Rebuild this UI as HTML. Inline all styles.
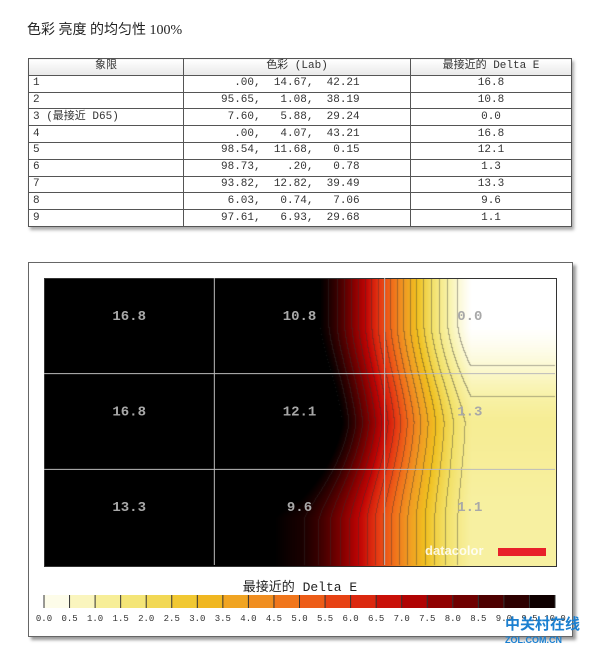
<!DOCTYPE html>
<html><head><meta charset="utf-8"><style>
body{margin:0;width:600px;height:658px;background:#fff;position:relative;overflow:hidden;font-family:"Liberation Mono","Noto Sans CJK SC",monospace;}
.t{position:absolute;}
table{border-collapse:collapse;position:absolute;left:28px;top:58px;width:544px;font-size:11px;color:#333;box-shadow:2px 3px 3px #aaa;}
td,th{border:1px solid #555;height:15.8px;padding:0 4px;font-weight:normal;line-height:15px;}
th{background:linear-gradient(#fff,#e8e8e8);}
td.c{text-align:center;}
td.l{white-space:pre;}
</style></head><body>
<div class="t" style="left:27px;top:19px;font-size:14px;font-family:'Liberation Serif','Noto Sans CJK SC',sans-serif;color:#222">色彩 亮度 的均匀性 100%</div>
<table>
<tr><th style="width:146px">象限</th><th style="width:218px">色彩 (Lab)</th><th>最接近的 Delta E</th></tr>
<tr><td>1</td><td class="l">       .00,  14.67,  42.21</td><td class="c">16.8</td></tr>
<tr><td>2</td><td class="l">     95.65,   1.08,  38.19</td><td class="c">10.8</td></tr>
<tr><td>3 (最接近 D65)</td><td class="l">      7.60,   5.88,  29.24</td><td class="c">0.0</td></tr>
<tr><td>4</td><td class="l">       .00,   4.07,  43.21</td><td class="c">16.8</td></tr>
<tr><td>5</td><td class="l">     98.54,  11.68,   0.15</td><td class="c">12.1</td></tr>
<tr><td>6</td><td class="l">     98.73,    .20,   0.78</td><td class="c">1.3</td></tr>
<tr><td>7</td><td class="l">     93.82,  12.82,  39.49</td><td class="c">13.3</td></tr>
<tr><td>8</td><td class="l">      6.03,   0.74,   7.06</td><td class="c">9.6</td></tr>
<tr><td>9</td><td class="l">     97.61,   6.93,  29.68</td><td class="c">1.1</td></tr>
</table>
<div style="position:absolute;left:28px;top:262px;width:543px;height:373px;border:1px solid #666;box-shadow:3px 3px 3px #999;background:#fff"></div>
<canvas id="hm" width="511" height="287" style="position:absolute;left:44px;top:278px;border:1px solid #333;box-sizing:border-box"></canvas>
<svg id="ov" width="600" height="658" style="position:absolute;left:0;top:0"></svg>
<div class="t" style="left:0;width:600px;text-align:center;top:576px;font-size:13px;color:#222">最接近的 Delta E</div>
<div class="t" style="left:505px;top:618px;font-family:'Liberation Sans','Noto Sans CJK SC',sans-serif;font-weight:bold;color:#1a7fd0;font-size:15px;line-height:14px">中关村在线<br><span style="font-size:9px">ZOL.COM.CN</span></div>
<script>
const grid=[[16.8,10.8,0.0],[16.8,12.1,1.3],[13.3,9.6,1.1]];
const cellLabels=["16.8","10.8","0.0","16.8","12.1","1.3","13.3","9.6","1.1"];
const tickLabels=["0.0","0.5","1.0","1.5","2.0","2.5","3.0","3.5","4.0","4.5","5.0","5.5","6.0","6.5","7.0","7.5","8.0","8.5","9.0","9.5","10.0"];
const stopV=[0,1,2,3,4,5,6,7,8,9,10];
const stopC=["#ffffff","#f8f2a8","#f2e066","#f0c020","#f09a22","#f06a1a","#e43412","#c00404","#800000","#3c0000","#000000"];
const W=511,H=287,X0=44,Y0=278;
function hex(c){return [1,3,5].map(i=>parseInt(c.substr(i,2),16));}
function cmap(v){v=Math.max(0,Math.min(10,v));let i=Math.min(9,Math.floor(v));const t=v-stopV[i];const a=hex(stopC[i]),b=hex(stopC[i+1]);return a.map((x,k)=>x+(b[k]-x)*t);}
function sm(t){t=Math.max(0,Math.min(1,t));return 0.5*t+0.5*t*t*(3-2*t);}
function field(px,py){const cw=W/3,ch=H/3;let fx=px/cw-0.5,fy=py/ch-0.5;
 let i=Math.max(0,Math.min(1,Math.floor(fx))),j=Math.max(0,Math.min(1,Math.floor(fy)));
 let tx=sm(fx-i),ty=sm(fy-j);const a=grid[j][i],b=grid[j][i+1],c=grid[j+1][i],d=grid[j+1][i+1];
 return Math.max(0,a*(1-tx)*(1-ty)+b*tx*(1-ty)+c*(1-tx)*ty+d*tx*ty);}
const cv=document.getElementById('hm'),ctx=cv.getContext('2d'),img=ctx.createImageData(W,H);
const F=[];for(let y=0;y<H;y++){F[y]=[];for(let x=0;x<W;x++)F[y][x]=field(x,y);}
const q=v=>Math.floor(Math.min(10,v)*2);
for(let y=0;y<H;y++)for(let x=0;x<W;x++){const v=F[y][x];let c=cmap(v);
 if(v<10&&x<W-1&&y<H-1){const a=q(v),b=q(F[y][x+1]),d=q(F[y+1][x]);if(a!==b||a!==d)c=c.map(z=>z*0.6+20);}
 const k=(y*W+x)*4;img.data[k]=c[0];img.data[k+1]=c[1];img.data[k+2]=c[2];img.data[k+3]=255;}
ctx.putImageData(img,0,0);
const ov=document.getElementById('ov'),NS='http://www.w3.org/2000/svg';
function el(t,a){const e=document.createElementNS(NS,t);for(const k in a)e.setAttribute(k,a[k]);ov.appendChild(e);return e;}
for(let i=1;i<3;i++){let l=el('line',{x1:X0+i*W/3,x2:X0+i*W/3,y1:Y0,y2:Y0+H,stroke:'#bbb','stroke-width':1});


l=el('line',{y1:Y0+i*H/3,y2:Y0+i*H/3,x1:X0,x2:X0+W,stroke:'#bbb','stroke-width':1});

}
cellLabels.forEach((s,n)=>{const i=n%3,j=Math.floor(n/3);const t=el('text',{x:X0+(i+0.5)*W/3,y:Y0+(j+0.5)*H/3-6,'text-anchor':'middle','font-size':14,'font-weight':'bold','font-family':'Liberation Mono,monospace',fill:'#a8a8a8'});t.textContent=s;

});
let lg=el('text',{x:425,y:555,'font-size':13,'font-family':'Liberation Sans,sans-serif','font-weight':'bold',fill:'#fff','fill-opacity':0.85});lg.textContent='datacolor';


let lr=el('rect',{x:498,y:548,width:48,height:8,fill:'#e8202a'});


const CB0=44,CB1=555,CBY=595,CBH=13;
const sx=v=>CB0+(v/10)*(CB1-CB0);
for(let n=0;n<20;n++){const v=n*0.5;const c=cmap(v+0.25);const r=el('rect',{x:sx(v),y:CBY,width:sx(v+0.5)-sx(v)+0.5,height:CBH,fill:`rgb(${c.map(Math.round).join(',')})`});

}
tickLabels.forEach(s=>{const v=parseFloat(s);const l=el('line',{x1:sx(v),x2:sx(v),y1:CBY,y2:CBY+CBH,stroke:'#333','stroke-width':1});


const t=el('text',{x:sx(v),y:621,'text-anchor':'middle','font-size':9,'font-family':'Liberation Mono,monospace',fill:'#333'});t.textContent=s;

});
</script>
</body></html>
